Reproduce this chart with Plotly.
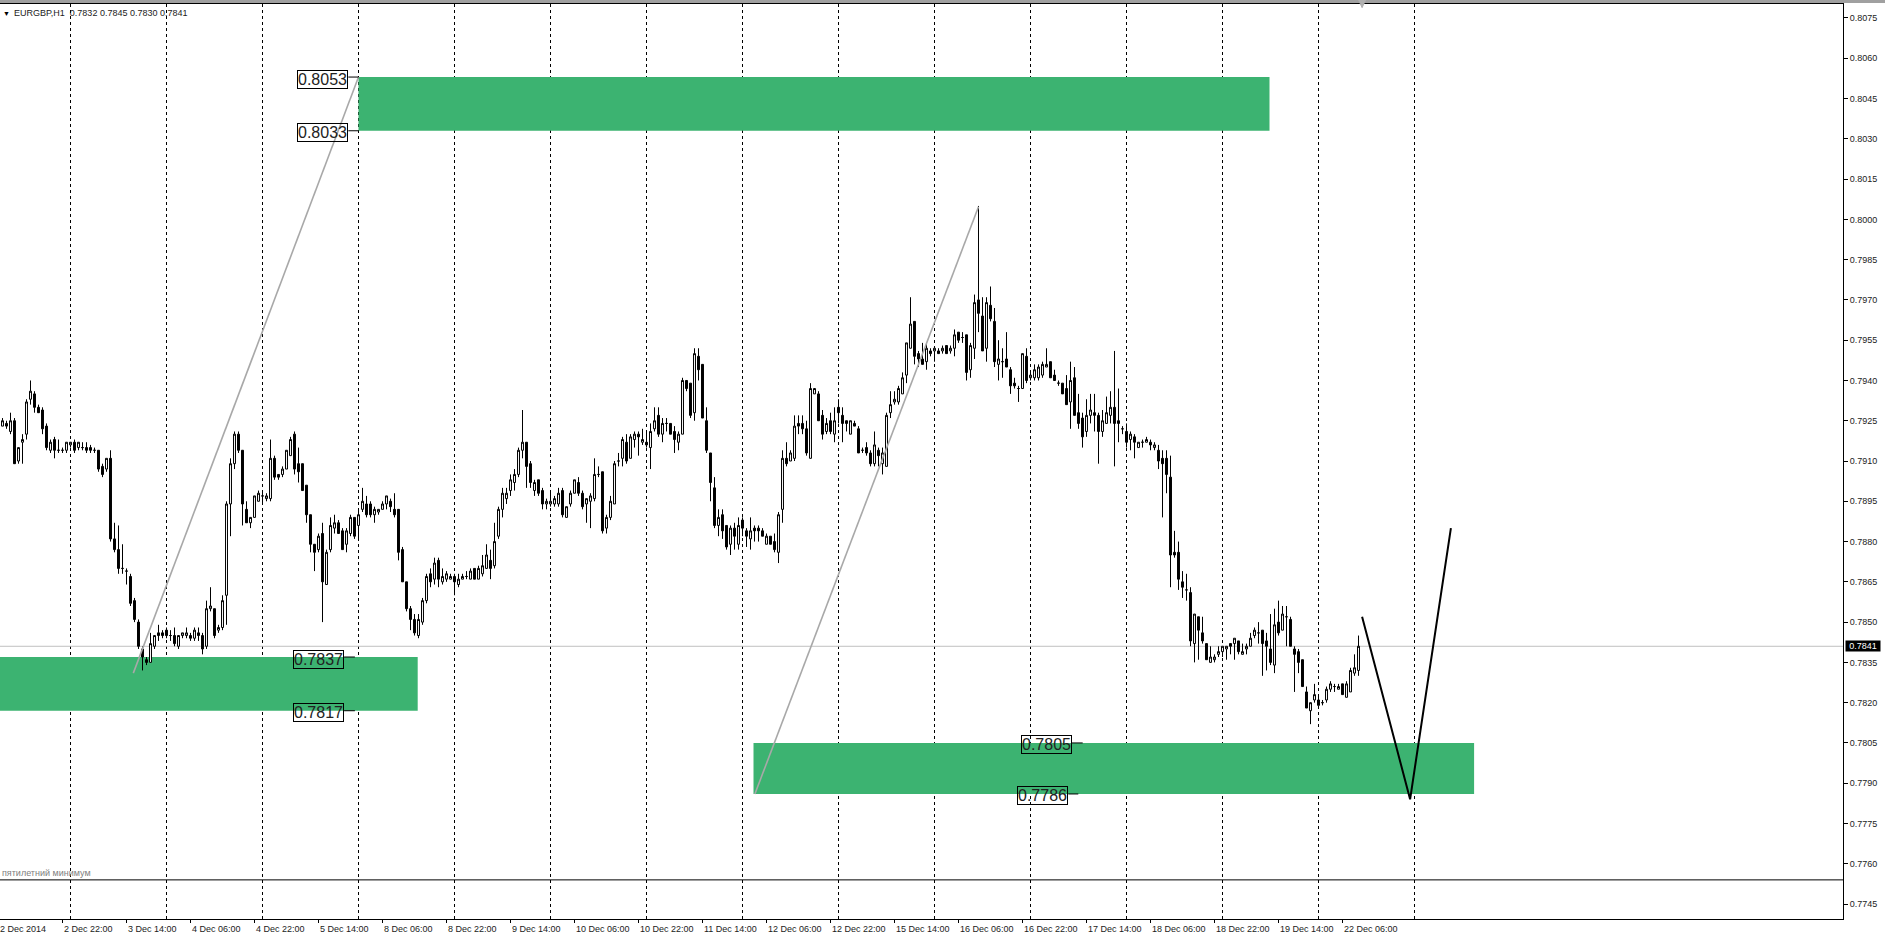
import plotly.graph_objects as go

# H1 bars, weekends skipped. Bar index 0 = 2 Dec 2014 00:00, index 24 = 3 Dec 00:00 ...
first_bar = 7

opens = [
    # 2 Dec (07:00 - 23:00)
    0.7923, 0.7924, 0.7921, 0.7925, 0.7910, 0.7917, 0.7920, 0.7933, 0.7935, 0.7930, 0.7929, 0.7923, 0.7914, 0.7918, 0.7914, 0.7914, 0.7914,
    # 3 Dec
    0.7916, 0.7917, 0.7915, 0.7915, 0.7915, 0.7915, 0.7914, 0.7914, 0.7908, 0.7907, 0.7911, 0.7881, 0.7877, 0.7870, 0.7869, 0.7867, 0.7858, 0.7850, 0.7840, 0.7836, 0.7835, 0.7841, 0.7846, 0.7846,
    # 4 Dec
    0.7847, 0.7845, 0.7845, 0.7841, 0.7845, 0.7845, 0.7845, 0.7844, 0.7846, 0.7845, 0.7841, 0.7855, 0.7855, 0.7847, 0.7848, 0.7860, 0.7894, 0.7909, 0.7920, 0.7914, 0.7892, 0.7887, 0.7889, 0.7895,
    # 5 Dec
    0.7897, 0.7896, 0.7896, 0.7911, 0.7905, 0.7905, 0.7907, 0.7912, 0.7920, 0.7909, 0.7909, 0.7901, 0.7890, 0.7879, 0.7877, 0.7883, 0.7864, 0.7877, 0.7885, 0.7887, 0.7884, 0.7879, 0.7883, 0.7889,
    # 8 Dec
    0.7886, 0.7892, 0.7894, 0.7894, 0.7890, 0.7891, 0.7892, 0.7894, 0.7895, 0.7892, 0.7892, 0.7877, 0.7865, 0.7855, 0.7851, 0.7845, 0.7850, 0.7858, 0.7868, 0.7866, 0.7873, 0.7865, 0.7866, 0.7866,
    # 9 Dec
    0.7867, 0.7864, 0.7866, 0.7867, 0.7866, 0.7870, 0.7866, 0.7868, 0.7870, 0.7873, 0.7871, 0.7882, 0.7892, 0.7896, 0.7899, 0.7902, 0.7905, 0.7914, 0.7917, 0.7909, 0.7899, 0.7903, 0.7899, 0.7894,
    # 10 Dec
    0.7894, 0.7894, 0.7894, 0.7899, 0.7889, 0.7894, 0.7898, 0.7902, 0.7898, 0.7894, 0.7895, 0.7896, 0.7905, 0.7906, 0.7885, 0.7889, 0.7894, 0.7910, 0.7911, 0.7917, 0.7911, 0.7918, 0.7920, 0.7917,
    # 11 Dec
    0.7917, 0.7915, 0.7922, 0.7927, 0.7920, 0.7924, 0.7924, 0.7921, 0.7917, 0.7920, 0.7940, 0.7939, 0.7928, 0.7949, 0.7946, 0.7925, 0.7913, 0.7900, 0.7886, 0.7890, 0.7886, 0.7879, 0.7885, 0.7879,
    # 12 Dec
    0.7888, 0.7884, 0.7881, 0.7885, 0.7885, 0.7884, 0.7879, 0.7882, 0.7880, 0.7876, 0.7892, 0.7911, 0.7910, 0.7911, 0.7924, 0.7924, 0.7922, 0.7911, 0.7935, 0.7935, 0.7927, 0.7921, 0.7925, 0.7920,
    # 15 Dec
    0.7930, 0.7927, 0.7925, 0.7920, 0.7924, 0.7922, 0.7914, 0.7915, 0.7913, 0.7909, 0.7914, 0.7909, 0.7908, 0.7928, 0.7932, 0.7932, 0.7935, 0.7942, 0.7952, 0.7962, 0.7950, 0.7948, 0.7947, 0.7951,
    # 16 Dec
    0.7951, 0.7951, 0.7951, 0.7953, 0.7951, 0.7952, 0.7958, 0.7956, 0.7957, 0.7944, 0.7952, 0.7970, 0.7964, 0.7952, 0.7968, 0.7962, 0.7946, 0.7947, 0.7948, 0.7944, 0.7939, 0.7937, 0.7937, 0.7949,
    # 17 Dec
    0.7941, 0.7941, 0.7941, 0.7942, 0.7945, 0.7947, 0.7942, 0.7939, 0.7939, 0.7937, 0.7932, 0.7941, 0.7928, 0.7926, 0.7921, 0.7927, 0.7928, 0.7927, 0.7921, 0.7924, 0.7927, 0.7930, 0.7925, 0.7922,
    # 18 Dec
    0.7921, 0.7918, 0.7919, 0.7915, 0.7917, 0.7917, 0.7917, 0.7915, 0.7914, 0.7911, 0.7911, 0.7904, 0.7876, 0.7876, 0.7865, 0.7862, 0.7861, 0.7842, 0.7852, 0.7846, 0.7842, 0.7835, 0.7836, 0.7838,
    # 19 Dec
    0.7839, 0.7840, 0.7842, 0.7842, 0.7843, 0.7838, 0.7840, 0.7841, 0.7845, 0.7846, 0.7847, 0.7843, 0.7840, 0.7834, 0.7850, 0.7847, 0.7852, 0.7851, 0.7840, 0.7839, 0.7836, 0.7824, 0.7817, 0.7821,
    # 22 Dec (00:00 - 10:00)
    0.7821, 0.7820, 0.7821, 0.7825, 0.7826, 0.7825, 0.7827, 0.7822, 0.7824, 0.7831, 0.7832,
]

highs = [
    0.7926, 0.7925, 0.7928, 0.7926, 0.7915, 0.7920, 0.7933, 0.7940, 0.7936, 0.7931, 0.7930, 0.7924, 0.7918, 0.7919, 0.7918, 0.7915, 0.7917,
    0.7917, 0.7918, 0.7917, 0.7917, 0.7917, 0.7916, 0.7915, 0.7914, 0.7909, 0.7911, 0.7914, 0.7887, 0.7886, 0.7879, 0.7870, 0.7868, 0.7859, 0.7851, 0.7841, 0.7837, 0.7846, 0.7845, 0.7849, 0.7847,
    0.7848, 0.7847, 0.7848, 0.7845, 0.7846, 0.7848, 0.7846, 0.7848, 0.7848, 0.7846, 0.7858, 0.7863, 0.7855, 0.7849, 0.7860, 0.7895, 0.7911, 0.7921, 0.7921, 0.7914, 0.7895, 0.7889, 0.7897, 0.7899,
    0.7899, 0.7898, 0.7918, 0.7912, 0.7905, 0.7908, 0.7914, 0.7919, 0.7921, 0.7915, 0.7909, 0.7901, 0.7890, 0.7879, 0.7883, 0.7887, 0.7877, 0.7889, 0.7890, 0.7888, 0.7885, 0.7885, 0.7890, 0.7889,
    0.7892, 0.7900, 0.7897, 0.7895, 0.7893, 0.7892, 0.7895, 0.7897, 0.7896, 0.7898, 0.7892, 0.7878, 0.7865, 0.7856, 0.7853, 0.7853, 0.7859, 0.7868, 0.7870, 0.7874, 0.7874, 0.7870, 0.7869, 0.7868,
    0.7868, 0.7868, 0.7868, 0.7869, 0.7870, 0.7870, 0.7871, 0.7875, 0.7879, 0.7877, 0.7887, 0.7893, 0.7900, 0.7900, 0.7905, 0.7907, 0.7915, 0.7929, 0.7917, 0.7910, 0.7903, 0.7903, 0.7900, 0.7896,
    0.7899, 0.7897, 0.7900, 0.7900, 0.7893, 0.7899, 0.7903, 0.7904, 0.7899, 0.7896, 0.7898, 0.7911, 0.7908, 0.7906, 0.7890, 0.7897, 0.7910, 0.7913, 0.7919, 0.7920, 0.7920, 0.7921, 0.7921, 0.7922,
    0.7921, 0.7924, 0.7930, 0.7930, 0.7926, 0.7926, 0.7924, 0.7923, 0.7921, 0.7941, 0.7940, 0.7939, 0.7952, 0.7952, 0.7946, 0.7930, 0.7913, 0.7904, 0.7892, 0.7892, 0.7886, 0.7886, 0.7887, 0.7889,
    0.7889, 0.7885, 0.7889, 0.7886, 0.7886, 0.7885, 0.7883, 0.7882, 0.7883, 0.7891, 0.7914, 0.7917, 0.7914, 0.7927, 0.7927, 0.7927, 0.7925, 0.7939, 0.7937, 0.7936, 0.7929, 0.7926, 0.7928, 0.7930,
    0.7933, 0.7930, 0.7925, 0.7925, 0.7925, 0.7923, 0.7915, 0.7917, 0.7914, 0.7921, 0.7915, 0.7915, 0.7928, 0.7936, 0.7936, 0.7938, 0.7943, 0.7954, 0.7971, 0.7962, 0.7951, 0.7954, 0.7954, 0.7952,
    0.7952, 0.7952, 0.7953, 0.7953, 0.7953, 0.7959, 0.7958, 0.7958, 0.7957, 0.7954, 0.7972, 0.8005, 0.7971, 0.7971, 0.7975, 0.7967, 0.7955, 0.7952, 0.7958, 0.7945, 0.7941, 0.7938, 0.7950, 0.7952,
    0.7943, 0.7946, 0.7946, 0.7947, 0.7952, 0.7947, 0.7944, 0.7940, 0.7939, 0.7942, 0.7947, 0.7945, 0.7935, 0.7928, 0.7933, 0.7935, 0.7935, 0.7928, 0.7929, 0.7934, 0.7936, 0.7951, 0.7937, 0.7923,
    0.7924, 0.7921, 0.7920, 0.7917, 0.7918, 0.7919, 0.7918, 0.7917, 0.7916, 0.7914, 0.7914, 0.7912, 0.7884, 0.7880, 0.7869, 0.7868, 0.7863, 0.7853, 0.7852, 0.7852, 0.7842, 0.7841, 0.7838, 0.7841,
    0.7841, 0.7841, 0.7842, 0.7844, 0.7843, 0.7842, 0.7842, 0.7846, 0.7848, 0.7850, 0.7847, 0.7846, 0.7853, 0.7855, 0.7858, 0.7856, 0.7856, 0.7852, 0.7841, 0.7840, 0.7836, 0.7826, 0.7820, 0.7827,
    0.7823, 0.7821, 0.7826, 0.7828, 0.7827, 0.7827, 0.7827, 0.7828, 0.7833, 0.7838, 0.7845,
]

lows = [
    0.7923, 0.7922, 0.7920, 0.7909, 0.7909, 0.7909, 0.7918, 0.7931, 0.7928, 0.7928, 0.7920, 0.7914, 0.7913, 0.7911, 0.7913, 0.7913, 0.7913,
    0.7915, 0.7913, 0.7914, 0.7914, 0.7913, 0.7913, 0.7913, 0.7906, 0.7904, 0.7906, 0.7880, 0.7876, 0.7868, 0.7868, 0.7864, 0.7856, 0.7850, 0.7840, 0.7832, 0.7834, 0.7835, 0.7840, 0.7843, 0.7844,
    0.7844, 0.7843, 0.7841, 0.7840, 0.7844, 0.7844, 0.7843, 0.7843, 0.7843, 0.7838, 0.7840, 0.7854, 0.7844, 0.7846, 0.7847, 0.7849, 0.7882, 0.7907, 0.7913, 0.7886, 0.7887, 0.7885, 0.7889, 0.7895,
    0.7894, 0.7895, 0.7895, 0.7903, 0.7903, 0.7904, 0.7907, 0.7912, 0.7905, 0.7902, 0.7899, 0.7887, 0.7876, 0.7869, 0.7876, 0.7850, 0.7864, 0.7876, 0.7883, 0.7883, 0.7877, 0.7876, 0.7882, 0.7881,
    0.7881, 0.7891, 0.7889, 0.7889, 0.7887, 0.7890, 0.7892, 0.7892, 0.7891, 0.7889, 0.7873, 0.7865, 0.7854, 0.7847, 0.7845, 0.7844, 0.7849, 0.7857, 0.7863, 0.7864, 0.7863, 0.7864, 0.7865, 0.7866,
    0.7860, 0.7863, 0.7866, 0.7866, 0.7866, 0.7866, 0.7866, 0.7867, 0.7870, 0.7866, 0.7870, 0.7881, 0.7889, 0.7894, 0.7897, 0.7899, 0.7904, 0.7911, 0.7900, 0.7900, 0.7897, 0.7897, 0.7892, 0.7892,
    0.7893, 0.7893, 0.7893, 0.7889, 0.7889, 0.7893, 0.7898, 0.7897, 0.7892, 0.7887, 0.7885, 0.7895, 0.7904, 0.7883, 0.7883, 0.7888, 0.7894, 0.7908, 0.7908, 0.7909, 0.7911, 0.7915, 0.7912, 0.7916,
    0.7915, 0.7907, 0.7921, 0.7919, 0.7917, 0.7921, 0.7920, 0.7913, 0.7914, 0.7920, 0.7936, 0.7926, 0.7925, 0.7940, 0.7926, 0.7913, 0.7895, 0.7885, 0.7882, 0.7881, 0.7877, 0.7875, 0.7877, 0.7877,
    0.7882, 0.7878, 0.7877, 0.7880, 0.7880, 0.7882, 0.7879, 0.7879, 0.7876, 0.7872, 0.7887, 0.7908, 0.7910, 0.7910, 0.7920, 0.7920, 0.7912, 0.7911, 0.7935, 0.7925, 0.7918, 0.7920, 0.7920, 0.7917,
    0.7924, 0.7917, 0.7921, 0.7920, 0.7923, 0.7913, 0.7913, 0.7912, 0.7908, 0.7908, 0.7908, 0.7905, 0.7908, 0.7926, 0.7931, 0.7931, 0.7935, 0.7939, 0.7952, 0.7946, 0.7945, 0.7946, 0.7944, 0.7949,
    0.7947, 0.7950, 0.7950, 0.7950, 0.7950, 0.7949, 0.7954, 0.7954, 0.7940, 0.7941, 0.7948, 0.7958, 0.7951, 0.7947, 0.7962, 0.7945, 0.7940, 0.7941, 0.7945, 0.7935, 0.7937, 0.7932, 0.7937, 0.7939,
    0.7940, 0.7940, 0.7940, 0.7941, 0.7945, 0.7941, 0.7940, 0.7938, 0.7935, 0.7931, 0.7922, 0.7927, 0.7922, 0.7915, 0.7919, 0.7924, 0.7921, 0.7909, 0.7919, 0.7924, 0.7924, 0.7908, 0.7917, 0.7920,
    0.7915, 0.7914, 0.7911, 0.7915, 0.7915, 0.7917, 0.7914, 0.7914, 0.7907, 0.7889, 0.7898, 0.7863, 0.7874, 0.7862, 0.7859, 0.7858, 0.7841, 0.7835, 0.7836, 0.7842, 0.7836, 0.7835, 0.7835, 0.7837,
    0.7837, 0.7836, 0.7838, 0.7836, 0.7838, 0.7838, 0.7838, 0.7841, 0.7844, 0.7842, 0.7830, 0.7832, 0.7834, 0.7831, 0.7845, 0.7847, 0.7841, 0.7841, 0.7824, 0.7831, 0.7826, 0.7818, 0.7812, 0.7820,
    0.7819, 0.7819, 0.7820, 0.7824, 0.7824, 0.7825, 0.7823, 0.7822, 0.7824, 0.7830, 0.7830,
]

closes = [
    0.7925, 0.7923, 0.7925, 0.7909, 0.7915, 0.7918, 0.7932, 0.7936, 0.7930, 0.7928, 0.7922, 0.7915, 0.7917, 0.7914, 0.7914, 0.7914, 0.7917,
    0.7917, 0.7914, 0.7917, 0.7915, 0.7914, 0.7914, 0.7914, 0.7907, 0.7905, 0.7911, 0.7881, 0.7877, 0.7870, 0.7870, 0.7869, 0.7857, 0.7851, 0.7841, 0.7837, 0.7835, 0.7842, 0.7845, 0.7845, 0.7845,
    0.7845, 0.7845, 0.7842, 0.7845, 0.7846, 0.7846, 0.7844, 0.7847, 0.7845, 0.7840, 0.7855, 0.7856, 0.7845, 0.7848, 0.7858, 0.7894, 0.7909, 0.7920, 0.7914, 0.7894, 0.7887, 0.7889, 0.7897, 0.7898,
    0.7897, 0.7897, 0.7911, 0.7904, 0.7904, 0.7907, 0.7914, 0.7918, 0.7907, 0.7906, 0.7899, 0.7890, 0.7879, 0.7876, 0.7882, 0.7865, 0.7876, 0.7886, 0.7887, 0.7883, 0.7877, 0.7884, 0.7889, 0.7882,
    0.7890, 0.7895, 0.7890, 0.7890, 0.7892, 0.7892, 0.7894, 0.7897, 0.7893, 0.7890, 0.7876, 0.7865, 0.7855, 0.7851, 0.7846, 0.7851, 0.7858, 0.7867, 0.7865, 0.7872, 0.7866, 0.7867, 0.7868, 0.7867,
    0.7865, 0.7866, 0.7867, 0.7867, 0.7869, 0.7866, 0.7870, 0.7871, 0.7875, 0.7870, 0.7880, 0.7892, 0.7898, 0.7898, 0.7903, 0.7905, 0.7914, 0.7917, 0.7908, 0.7902, 0.7902, 0.7898, 0.7894, 0.7895,
    0.7895, 0.7896, 0.7898, 0.7890, 0.7893, 0.7898, 0.7903, 0.7898, 0.7893, 0.7896, 0.7897, 0.7905, 0.7905, 0.7884, 0.7889, 0.7895, 0.7909, 0.7910, 0.7918, 0.7910, 0.7919, 0.7920, 0.7919, 0.7918,
    0.7916, 0.7921, 0.7925, 0.7920, 0.7924, 0.7924, 0.7920, 0.7918, 0.7920, 0.7940, 0.7937, 0.7927, 0.7950, 0.7944, 0.7926, 0.7914, 0.7902, 0.7886, 0.7889, 0.7884, 0.7878, 0.7885, 0.7882, 0.7886,
    0.7885, 0.7882, 0.7884, 0.7884, 0.7884, 0.7882, 0.7882, 0.7879, 0.7877, 0.7890, 0.7911, 0.7909, 0.7913, 0.7923, 0.7923, 0.7922, 0.7913, 0.7937, 0.7937, 0.7925, 0.7920, 0.7924, 0.7921, 0.7925,
    0.7928, 0.7924, 0.7924, 0.7925, 0.7923, 0.7913, 0.7914, 0.7913, 0.7909, 0.7916, 0.7912, 0.7913, 0.7927, 0.7931, 0.7933, 0.7937, 0.7941, 0.7954, 0.7961, 0.7949, 0.7948, 0.7946, 0.7952, 0.7950,
    0.7952, 0.7950, 0.7952, 0.7950, 0.7952, 0.7957, 0.7955, 0.7956, 0.7943, 0.7953, 0.7969, 0.7965, 0.7951, 0.7969, 0.7963, 0.7947, 0.7948, 0.7947, 0.7945, 0.7938, 0.7938, 0.7937, 0.7950, 0.7940,
    0.7942, 0.7944, 0.7945, 0.7946, 0.7946, 0.7941, 0.7940, 0.7939, 0.7935, 0.7931, 0.7940, 0.7927, 0.7924, 0.7919, 0.7927, 0.7929, 0.7927, 0.7921, 0.7925, 0.7928, 0.7930, 0.7924, 0.7924, 0.7922,
    0.7917, 0.7920, 0.7917, 0.7917, 0.7917, 0.7918, 0.7916, 0.7916, 0.7910, 0.7909, 0.7905, 0.7875, 0.7875, 0.7866, 0.7863, 0.7862, 0.7843, 0.7853, 0.7847, 0.7843, 0.7836, 0.7837, 0.7837, 0.7839,
    0.7841, 0.7841, 0.7841, 0.7844, 0.7839, 0.7839, 0.7841, 0.7844, 0.7847, 0.7846, 0.7842, 0.7841, 0.7835, 0.7849, 0.7846, 0.7853, 0.7852, 0.7841, 0.7838, 0.7835, 0.7826, 0.7818, 0.7820, 0.7823,
    0.7819, 0.7820, 0.7825, 0.7827, 0.7826, 0.7826, 0.7823, 0.7827, 0.7832, 0.7833, 0.7841,
]

bars = list(range(first_bar, first_bar + len(opens)))

# time scale labels (bar index of each label) and day separators
time_label_bars = [6, 22, 38, 54, 70, 86, 102, 118, 134, 150, 166, 182, 198, 214,
                   230, 246, 262, 278, 294, 310, 326, 342]
time_labels = ["2 Dec 2014", "2 Dec 22:00", "3 Dec 14:00", "4 Dec 06:00", "4 Dec 22:00",
               "5 Dec 14:00", "8 Dec 06:00", "8 Dec 22:00", "9 Dec 14:00", "10 Dec 06:00",
               "10 Dec 22:00", "11 Dec 14:00", "12 Dec 06:00", "12 Dec 22:00", "15 Dec 14:00",
               "16 Dec 06:00", "16 Dec 22:00", "17 Dec 14:00", "18 Dec 06:00", "18 Dec 22:00",
               "19 Dec 14:00", "22 Dec 06:00"]
day_start_bars = [24, 48, 72, 96, 120, 144, 168, 192, 216, 240, 264, 288, 312, 336, 360]

price_ticks = [0.7745, 0.7760, 0.7775, 0.7790, 0.7805, 0.7820, 0.7835, 0.7850, 0.7865,
               0.7880, 0.7895, 0.7910, 0.7925, 0.7940, 0.7955, 0.7970, 0.7985, 0.8000,
               0.8015, 0.8030, 0.8045, 0.8060, 0.8075]

# supply / demand zones
zone_start = [96, -20, 194.75]
zone_end = [323.75, 110.8, 374.9]
zone_low = [0.8033, 0.7817, 0.7786]
zone_high = [0.8053, 0.7837, 0.7805]

# price labels of the zones
level_prices = [0.8053, 0.8033, 0.7837, 0.7817, 0.7805, 0.7786]
level_box_right = [93.45, 93.45, 92.4, 92.4, 274.3, 273.45]
level_tail_end = [96, 96, 95.1, 95.1, 277.05, 275.95]

# trend lines and projection
trend1_x = [39.7, 96]
trend1_y = [0.7831, 0.8053]
trend2_x = [195.1, 251]
trend2_y = [0.7786, 0.80047]
proj_x = [346.9, 358.9, 369.1]
proj_y = [0.7852, 0.7784, 0.7885]

five_year_low = 0.7754
bid_price = 0.7841
shift_marker_bar = 346.9
ohlc_header = "EURGBP,H1  0.7832 0.7845 0.7830 0.7841"

x_range = [6.375, 467.125]
y_range = [0.773943, 0.808021]

FONT = "Liberation Sans"
GREEN = "#3cb371"

fig = go.Figure()

fig.add_trace(go.Candlestick(
    x=bars, open=opens, high=highs, low=lows, close=closes,
    increasing=dict(line=dict(color="black", width=1), fillcolor="white"),
    decreasing=dict(line=dict(color="black", width=1), fillcolor="black"),
    whiskerwidth=0, hoverinfo="skip", showlegend=False,
))

fig.add_trace(go.Scatter(x=trend1_x, y=trend1_y, mode="lines",
                         line=dict(color="#a8a8a8", width=1.6),
                         hoverinfo="skip", showlegend=False))
fig.add_trace(go.Scatter(x=trend2_x, y=trend2_y, mode="lines",
                         line=dict(color="#a8a8a8", width=1.6),
                         hoverinfo="skip", showlegend=False))
fig.add_trace(go.Scatter(x=proj_x, y=proj_y, mode="lines",
                         line=dict(color="black", width=2),
                         hoverinfo="skip", showlegend=False))

shapes = []
for x0, x1, lo, hi in zip(zone_start, zone_end, zone_low, zone_high):
    shapes.append(dict(type="rect", xref="x", yref="y", x0=x0, x1=x1, y0=lo, y1=hi,
                       fillcolor=GREEN, line=dict(width=0), layer="below"))
for b in day_start_bars:
    shapes.append(dict(type="line", xref="x", yref="paper", x0=b, x1=b, y0=0, y1=1,
                       line=dict(color="black", width=1, dash="3px,3px"), layer="below"))
# bid line
shapes.append(dict(type="line", xref="paper", yref="y", x0=0, x1=1, y0=bid_price, y1=bid_price,
                   line=dict(color="#c0c0c0", width=1), layer="below"))
# five-year low
shapes.append(dict(type="line", xref="paper", yref="y", x0=0, x1=1, y0=five_year_low, y1=five_year_low,
                   line=dict(color="black", width=1)))
# label tails
for p, x0, x1 in zip(level_prices, level_box_right, level_tail_end):
    shapes.append(dict(type="line", xref="x", yref="y", x0=x0, x1=x1, y0=p, y1=p,
                       line=dict(color="black", width=1)))
# window strip above the chart
shapes.append(dict(type="rect", xref="paper", yref="paper", x0=0, x1=1.03, y0=1.0012, y1=1.0045,
                   fillcolor="#a0a0a0", line=dict(width=0)))
# chart shift marker at the top edge
span = x_range[1] - x_range[0]
mx = (shift_marker_bar - x_range[0]) / span
dx = 3.5 / 1843
shapes.append(dict(type="path", xref="paper", yref="paper",
                   path=f"M {mx - dx},1.0045 L {mx + dx},1.0045 L {mx},0.9960 Z",
                   fillcolor="#b0b0b0", line=dict(color="#b0b0b0", width=1)))

annotations = []
for p, xr in zip(level_prices, level_box_right):
    annotations.append(dict(x=xr, y=p, xref="x", yref="y", xanchor="right", yanchor="middle",
                            yshift=-2, text=f"{p:.4f}", showarrow=False, bordercolor="black",
                            borderwidth=1, borderpad=0,
                            font=dict(family=FONT, size=16, color="#222222")))

for b, t in zip(time_label_bars, time_labels):
    annotations.append(dict(x=(b - x_range[0]) / span, y=0, xref="paper", yref="paper",
                            xanchor="left", yanchor="top", xshift=-1, yshift=-3,
                            text=t, showarrow=False,
                            font=dict(family=FONT, size=9, color="#1b1b1b")))

annotations.append(dict(x=0, y=1, xref="paper", yref="paper", xanchor="left", yanchor="top",
                        xshift=1, yshift=-4, text="▼", showarrow=False,
                        font=dict(family=FONT, size=7, color="black")))
annotations.append(dict(x=0, y=1, xref="paper", yref="paper", xanchor="left", yanchor="top",
                        xshift=12, yshift=-2, text=ohlc_header, showarrow=False,
                        font=dict(family=FONT, size=9, color="#1b1b1b")))
annotations.append(dict(x=0, y=five_year_low, xref="paper", yref="y", xanchor="left",
                        yanchor="middle", yshift=7, text="пятилетний минимум", showarrow=False,
                        font=dict(family=FONT, size=9, color="#808080")))
annotations.append(dict(x=1, y=bid_price, xref="paper", yref="y", xanchor="left",
                        yanchor="middle", xshift=2, text=f"{bid_price:.4f}", showarrow=False,
                        bgcolor="black", width=34, borderpad=0,
                        font=dict(family=FONT, size=9, color="white")))

fig.update_layout(
    width=1885, height=941,
    margin=dict(l=0, r=42, t=4, b=22),
    paper_bgcolor="white", plot_bgcolor="white",
    showlegend=False,
    shapes=shapes, annotations=annotations,
    xaxis=dict(range=x_range, showgrid=False, zeroline=False, showticklabels=False,
               tickvals=time_label_bars, ticks="outside", ticklen=3, tickcolor="black",
               showline=True, linecolor="black", linewidth=1, mirror=True,
               rangeslider=dict(visible=False), fixedrange=True),
    yaxis=dict(range=y_range, side="right", showgrid=False, zeroline=False,
               tickvals=price_ticks, ticktext=[f"{v:.4f}" for v in price_ticks],
               ticks="outside", ticklen=4, tickcolor="black",
               tickfont=dict(family=FONT, size=9, color="#1b1b1b"),
               showline=True, linecolor="black", linewidth=1, fixedrange=True),
)

fig.write_html("out.html", config={"displayModeBar": False},
               post_script="document.body.style.margin='0';document.body.style.overflow='hidden';")
